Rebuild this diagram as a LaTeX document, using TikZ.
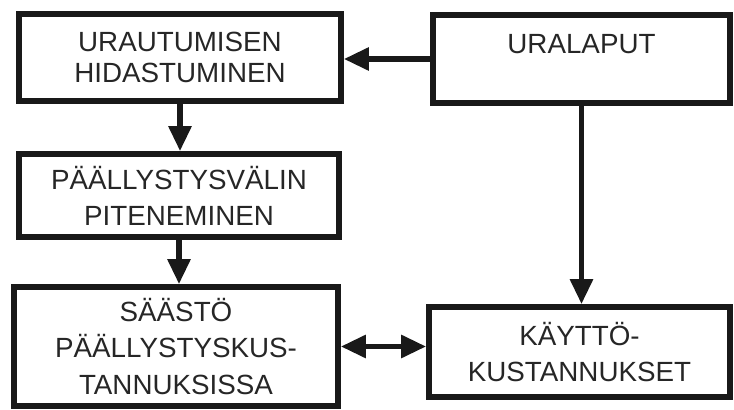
\documentclass[tikz,border=0pt]{standalone}
\usepackage{fontspec}
\setmainfont{Liberation Sans}
\usetikzlibrary{arrows.meta}

\begin{document}
\begin{tikzpicture}[
        box/.style={draw=black!90, line width=3.2pt, rectangle, align=center, inner sep=0pt,
            font=\fontsize{15.8}{20.5}\selectfont, text=black!85},
        arr/.style={line width=3.2pt, draw=black!90, -{Triangle[length=0.5cm,width=0.44cm]}},
        darr/.style={arr, {Triangle[length=0.5cm,width=0.44cm]}-{Triangle[length=0.5cm,width=0.44cm]}}
    ]
        % Frame
        \useasboundingbox (0,0) rectangle (14.68,-8.2);

        % Boxes
        \node[box, minimum width=6.44cm, minimum height=1.74cm] (urautuminen) at (3.60,-1.15)
            {URAUTUMISEN\\[-3pt]HIDASTUMINEN};
        \node[box, minimum width=5.94cm, minimum height=1.76cm] (uralaput) at (11.63,-1.18)
            {URALAPUT\\[-3pt]~};
        \node[box, minimum width=6.40cm, minimum height=1.66cm] (paallystysvali) at (3.58,-3.91)
            {PÄÄLLYSTYSVÄLIN\\PITENEMINEN};
        \node[box, minimum width=6.48cm, minimum height=2.38cm] (saasto) at (3.52,-6.93)
            {SÄÄSTÖ\\PÄÄLLYSTYSKUS-\\TANNUKSISSA};
        \node[box, minimum width=6.02cm, minimum height=1.80cm] (kaytto) at (11.59,-7.04)
            {KÄYTTÖ-\\KUSTANNUKSET};

        % Arrows
        \draw[arr] (uralaput.west) -- (urautuminen.east |- uralaput.west);
        \draw[arr] (urautuminen.south) -- (urautuminen.south |- paallystysvali.north);
        \draw[arr] (paallystysvali.south) -- (paallystysvali.south |- saasto.north);
        \draw[arr] (uralaput.south) -- (uralaput.south |- kaytto.north);
        \draw[darr] (saasto.east) -- (saasto.east -| kaytto.west);
    \end{tikzpicture}
\end{document}
